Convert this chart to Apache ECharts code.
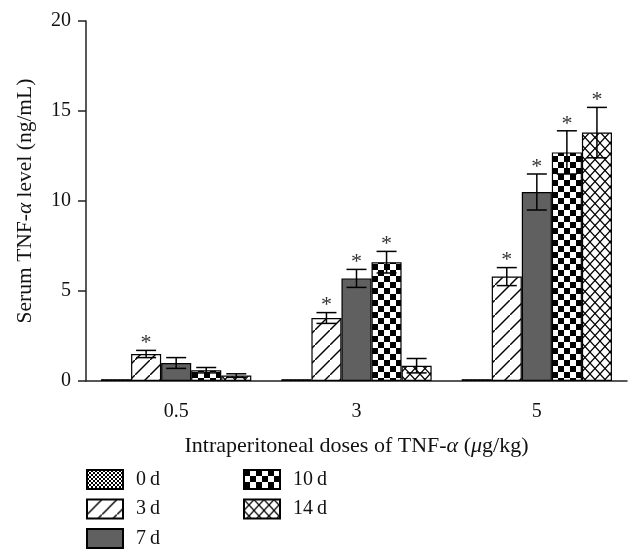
<!DOCTYPE html>
<html><head><meta charset="utf-8">
<script src="https://cdn.jsdelivr.net/npm/echarts@6/dist/echarts.min.js"></script>
<style>html,body{margin:0;padding:0;background:#fff}#c{width:641px;height:560px}</style>
</head><body><div id="c"></div>
<script>
// ---- data ----
const categories = ['0.5', '3', '5'];
const seriesNames = ['0\u2009d', '3\u2009d', '7\u2009d', '10\u2009d', '14\u2009d'];
const day0  = [0.1, 0.1, 0.1];
const day3  = [1.5, 3.5, 5.8];
const day7  = [1.0, 5.7, 10.5];
const day10 = [0.6, 6.6, 12.7];
const day14 = [0.3, 0.85, 13.8];
const err0  = [0, 0, 0];
const err3  = [0.2, 0.3, 0.5];
const err7  = [0.3, 0.5, 1.0];
const err10 = [0.15, 0.6, 1.2];
const err14 = [0.1, 0.4, 1.4];
const star0  = [0, 0, 0];
const star3  = [1, 1, 1];
const star7  = [0, 1, 1];
const star10 = [0, 1, 1];
const star14 = [0, 0, 1];
const yTicks = [0, 5, 10, 15, 20];

const values = [day0, day3, day7, day10, day14];
const errors = [err0, err3, err7, err10, err14];
const stars = [star0, star3, star7, star10, star14];

const FONT = 'Liberation Serif';
const GAP = 1 / 6;

function pat(w, h, draw) {
  const c = document.createElement('canvas');
  c.width = w; c.height = h;
  const x = c.getContext('2d');
  x.fillStyle = '#fff'; x.fillRect(0, 0, w, h);
  x.fillStyle = '#000'; x.strokeStyle = '#000';
  draw(x, w, h);
  return { image: c, repeat: 'repeat' };
}
const fills = [
  pat(4, 4, (x) => { x.fillRect(0, 0, 2, 2); x.fillRect(2, 2, 2, 2); }),
  pat(15, 15, (x, w, h) => { x.lineWidth = 1.4; x.beginPath(); x.moveTo(-1, h + 1); x.lineTo(w + 1, -1); x.stroke(); }),
  '#606060',
  pat(12, 12, (x) => { x.fillRect(0, 0, 6, 6); x.fillRect(6, 6, 6, 6); }),
  pat(10, 11, (x, w, h) => { x.lineWidth = 1.2; x.beginPath(); x.moveTo(0, 0); x.lineTo(w, h); x.moveTo(0, h); x.lineTo(w, 0); x.stroke(); })
];

const barSeries = seriesNames.map((n, i) => ({
  name: n, type: 'bar', data: values[i],
  barGap: '0%', barCategoryGap: (GAP * 100) + '%',
  itemStyle: { color: fills[i], borderColor: '#000', borderWidth: 1.2 },
  emphasis: { disabled: true }, z: 2
}));

const errData = [];
for (let s = 0; s < 5; s++) for (let c = 0; c < categories.length; c++) {
  errData.push([c, s, values[s][c], errors[s][c], stars[s][c]]);
}

const errSeries = {
  type: 'custom', z: 5, silent: true,
  data: errData,
  encode: { x: 0, y: 2 },
  renderItem(params, api) {
    const ci = api.value(0), si = api.value(1), v = api.value(2), e = api.value(3), st = api.value(4);
    const band = api.size([1, 0])[0];
    const bw = band * (1 - GAP) / 5;
    const cx = api.coord([ci, 0])[0] + (si - 2) * bw;
    const yt = api.coord([ci, v + e])[1];
    const yb = api.coord([ci, Math.max(v - e, 0)])[1];
    const ch = [];
    const ls = { stroke: '#000', lineWidth: 1.5 };
    const half = 10;
    if (e > 0) {
      ch.push({ type: 'line', shape: { x1: cx, y1: yt, x2: cx, y2: yb }, style: ls });
      ch.push({ type: 'line', shape: { x1: cx - half, y1: yt, x2: cx + half, y2: yt }, style: ls });
      ch.push({ type: 'line', shape: { x1: cx - half, y1: yb, x2: cx + half, y2: yb }, style: ls });
    }
    if (st) {
      ch.push({ type: 'text', style: { x: cx, y: yt + 4, text: '*', fill: '#333', font: '22px ' + FONT, align: 'center', verticalAlign: 'bottom' } });
    }
    return { type: 'group', children: ch };
  }
};

const chart = echarts.init(document.getElementById('c'), null, { renderer: 'canvas' });
const legendBase = {
  orient: 'vertical', itemWidth: 36, itemHeight: 19, itemGap: 8.5, padding: 0,
  height: 90, selectedMode: false, icon: 'rect',
  textStyle: { fontFamily: FONT, fontSize: 20, lineHeight: 19, color: '#111', padding: [0, 0, 0, 8] }
};
const richX = { n: { fontFamily: FONT, fontSize: 22, color: '#111' }, i: { fontFamily: FONT, fontSize: 22, fontStyle: 'italic', color: '#111' } };
const richY = { n: { fontFamily: FONT, fontSize: 21.5, color: '#111' }, i: { fontFamily: FONT, fontSize: 21.5, fontStyle: 'italic', color: '#111' } };
chart.setOption({
  animation: false,
  backgroundColor: '#fff',
  textStyle: { fontFamily: FONT },
  grid: { left: 86, right: 14, top: 21, bottom: 179, containLabel: false },
  legend: [
    Object.assign({}, legendBase, { left: 86, top: 469, data: seriesNames.slice(0, 3) }),
    Object.assign({}, legendBase, { left: 243, top: 469, data: seriesNames.slice(3) })
  ],
  xAxis: {
    type: 'category', data: categories,
    name: '{n|Intraperitoneal doses of TNF-}{i|\u03b1}{n| (}{i|\u03bc}{n|g/kg)}',
    nameLocation: 'middle', nameGap: 54,
    nameTextStyle: { rich: richX },
    axisLine: { lineStyle: { color: '#222', width: 1.5 } },
    axisTick: { alignWithLabel: true, length: 9, lineStyle: { color: '#222', width: 1.5 } },
    axisLabel: { fontFamily: FONT, fontSize: 20, color: '#111', margin: 21 }
  },
  yAxis: {
    type: 'value', min: yTicks[0], max: yTicks[yTicks.length - 1], interval: 5,
    name: '{n|Serum TNF-}{i|\u03b1}{n| level (ng/mL)}',
    nameLocation: 'middle', nameGap: 50,
    nameTextStyle: { rich: richY },
    axisLine: { show: true, lineStyle: { color: '#222', width: 1.5 } },
    axisTick: { show: true, length: 8, lineStyle: { color: '#222', width: 1.5 } },
    axisLabel: { fontFamily: FONT, fontSize: 20, color: '#111', margin: 15 },
    splitLine: { show: false }
  },
  series: barSeries.concat([errSeries])
});
</script>
</body></html>
